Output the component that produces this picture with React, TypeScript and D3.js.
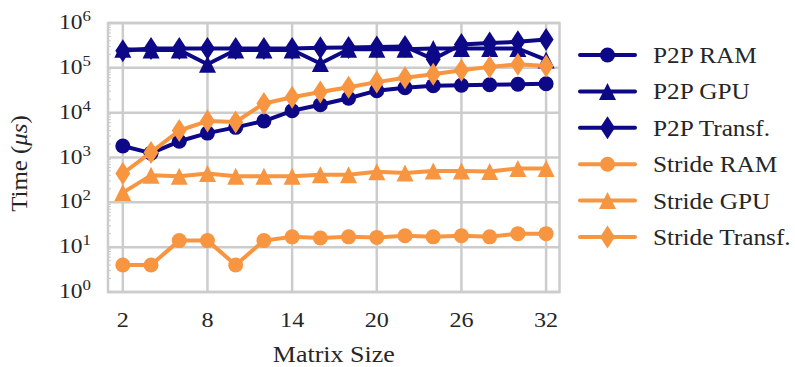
import * as d3 from "d3";

const matrixSizes = [2, 4, 6, 8, 10, 12, 14, 16, 18, 20, 22, 24, 26, 28, 30, 32];

const p2pRam = [1800, 1250, 2300, 3500, 4700, 6500, 11000, 15000, 21000, 31000, 36000, 40000, 41000, 42000, 43000, 44000];
const p2pGpu = [260000, 250000, 250000, 120000, 250000, 250000, 250000, 125000, 260000, 260000, 260000, 270000, 270000, 270000, 270000, 150000];
const p2pTransf = [240000, 270000, 270000, 270000, 270000, 270000, 270000, 280000, 285000, 290000, 300000, 155000, 330000, 360000, 380000, 430000];
const strideRam = [4, 4, 14, 14, 4, 14, 17, 16, 17, 16.5, 18, 17, 18, 17, 20, 20];
const strideGpu = [165, 400, 380, 440, 380, 380, 380, 410, 410, 480, 450, 500, 500, 490, 570, 570];
const strideTransf = [440, 1300, 4000, 6500, 6200, 16000, 22000, 29000, 37000, 48000, 60000, 72000, 88000, 105000, 120000, 110000];

const xTicks = [2, 8, 14, 20, 26, 32];
const yTickExps = [0, 1, 2, 3, 4, 5, 6];

const NAVY = "#0d0887";
const ORANGE = "#f89540";
const GRID = "#cccccc";
const TEXT = "#262626";
const FONT = "'Liberation Serif', 'Times New Roman', Times, serif";

type Marker = "circle" | "triangle" | "diamond";

const series: { name: string; values: number[]; color: string; marker: Marker }[] = [
  { name: "P2P RAM", values: p2pRam, color: NAVY, marker: "circle" },
  { name: "P2P GPU", values: p2pGpu, color: NAVY, marker: "triangle" },
  { name: "P2P Transf.", values: p2pTransf, color: NAVY, marker: "diamond" },
  { name: "Stride RAM", values: strideRam, color: ORANGE, marker: "circle" },
  { name: "Stride GPU", values: strideGpu, color: ORANGE, marker: "triangle" },
  { name: "Stride Transf.", values: strideTransf, color: ORANGE, marker: "diamond" },
];

const plot = { left: 108, right: 559.5, top: 23, bottom: 292 };

function MarkerShape({ type, x, y, color }: { type: Marker; x: number; y: number; color: string }) {
  if (type === "circle") return <circle cx={x} cy={y} r={7.5} fill={color} />;
  if (type === "triangle") {
    const h = 8.5;
    return <path d={`M${x},${y - h}L${x + h},${y + h}L${x - h},${y + h}Z`} fill={color} />;
  }
  const hh = 11.5, hw = 7.5;
  return <path d={`M${x},${y - hh}L${x + hw},${y}L${x},${y + hh}L${x - hw},${y}Z`} fill={color} />;
}

export default function App() {
  const x = d3.scaleLinear().domain([0.95, 32.95]).range([plot.left, plot.right]);
  const y = d3.scaleLog().domain([1, 1e6]).range([plot.bottom, plot.top]);

  const line = d3
    .line<number>()
    .x((_, i) => x(matrixSizes[i]))
    .y((d) => y(d));

  const minorTicks: number[] = [];
  yTickExps.slice(0, -1).forEach((e) => {
    for (let m = 2; m <= 9; m++) minorTicks.push(m * Math.pow(10, e));
  });

  const legendX = 580;
  const legendY0 = 55;
  const legendStep = 36.4;

  return (
    <svg
      width={795}
      height={367}
      style={{ position: "absolute", left: 0, top: 0, background: "#fff", fontFamily: FONT }}
    >
      {/* grid */}
      {xTicks.map((t) => (
        <line key={"gx" + t} x1={x(t)} x2={x(t)} y1={plot.top} y2={plot.bottom} stroke={GRID} strokeWidth={2.5} />
      ))}
      {yTickExps.map((e) => (
        <line
          key={"gy" + e}
          x1={plot.left}
          x2={plot.right}
          y1={y(Math.pow(10, e))}
          y2={y(Math.pow(10, e))}
          stroke={GRID}
          strokeWidth={2.5}
        />
      ))}
      {minorTicks.map((v, i) => (
        <line key={"mt" + i} x1={plot.left} x2={plot.left + 3} y1={y(v)} y2={y(v)} stroke={GRID} strokeWidth={1} />
      ))}
      <rect
        x={plot.left}
        y={plot.top}
        width={plot.right - plot.left}
        height={plot.bottom - plot.top}
        fill="none"
        stroke={GRID}
        strokeWidth={2.5}
      />

      {/* series */}
      {series.map((s) => (
        <g key={s.name}>
          <path d={line(s.values) || ""} fill="none" stroke={s.color} strokeWidth={4} strokeLinejoin="round" />
          {s.values.map((v, i) => (
            <MarkerShape key={i} type={s.marker} x={x(matrixSizes[i])} y={y(v)} color={s.color} />
          ))}
        </g>
      ))}

      {/* x ticks */}
      {xTicks.map((t) => (
        <text
          key={"xt" + t}
          transform={`translate(${x(t)},327) scale(1.15,1)`}
          textAnchor="middle"
          fontSize={21}
          fill={TEXT}
        >
          {t}
        </text>
      ))}
      <text
        transform={`translate(${(plot.left + plot.right) / 2},362) scale(1.13,1)`}
        textAnchor="middle"
        fontSize={23}
        fill={TEXT}
      >
        Matrix Size
      </text>

      {/* y ticks */}
      {yTickExps.map((e) => (
        <text
          key={"yt" + e}
          transform={`translate(91,${y(Math.pow(10, e)) + 6}) scale(1.12,1)`}
          textAnchor="end"
          fontSize={21}
          fill={TEXT}
        >
          10
          <tspan dy={-8} fontSize={15}>
            {e}
          </tspan>
        </text>
      ))}
      <text
        transform={`translate(27,${(plot.top + plot.bottom) / 2 + 6}) rotate(-90) scale(1.08,1)`}
        textAnchor="middle"
        fontSize={23}
        fill={TEXT}
      >
        Time (<tspan fontStyle="italic">μs</tspan>)
      </text>

      {/* legend */}
      {series.map((s, i) => {
        const ly = legendY0 + i * legendStep;
        return (
          <g key={"lg" + s.name}>
            <line x1={legendX} x2={legendX + 55} y1={ly} y2={ly} stroke={s.color} strokeWidth={4} strokeLinecap="round" />
            <MarkerShape type={s.marker} x={legendX + 27.5} y={ly} color={s.color} />
            <text transform={`translate(653,${ly + 8}) scale(1.1,1)`} fontSize={23} fill={TEXT}>
              {s.name}
            </text>
          </g>
        );
      })}
    </svg>
  );
}
